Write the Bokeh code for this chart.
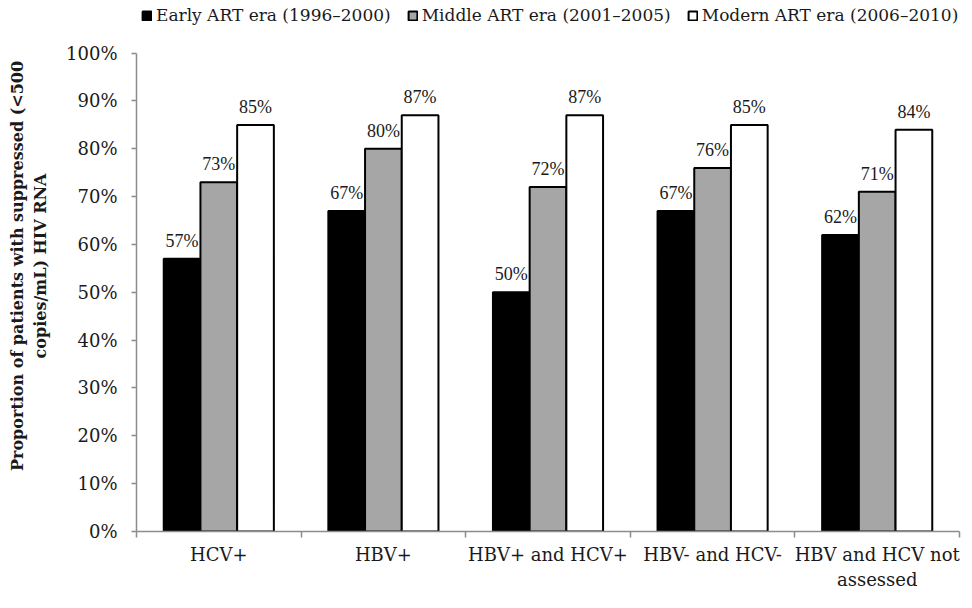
from bokeh.plotting import figure
from bokeh.models import (ColumnDataSource, Range1d, FixedTicker, PrintfTickFormatter,
                          LabelSet, Legend, LegendItem)
from bokeh.embed import file_html
from bokeh.resources import INLINE

categories = ["HCV+", "HBV+", "HBV+ and HCV+", "HBV- and HCV-", "HBV and HCV not\nassessed"]
series_names = ["Early ART era (1996\u20132000)", "Middle ART era (2001\u20132005)", "Modern ART era (2006\u20132010)"]
early = [57, 67, 50, 67, 62]
middle = [73, 80, 72, 76, 71]
modern = [85, 87, 87, 85, 84]
y_ticks = [0, 10, 20, 30, 40, 50, 60, 70, 80, 90, 100]

FONT = "DejaVu Serif"
TXT = "#1a1a1a"
AX = "#8c8c8c"
BAR_W = 0.223
offsets = [-BAR_W, 0.0, BAR_W]
fills = ["#000000", "#a6a6a6", "#ffffff"]

# frame reaches up to the legend row; the axis itself stops at 100 %
Y_TOP = 111

p = figure(width=962, height=592, output_backend="svg", toolbar_location=None,
           x_range=Range1d(0, len(categories)), y_range=Range1d(0, Y_TOP),
           min_border_left=136, min_border_right=3, min_border_top=0, min_border_bottom=50)
p.outline_line_color = None
p.xgrid.visible = False
p.ygrid.visible = False

renderers = []
for vals, off, fc, name in zip([early, middle, modern], offsets, fills, series_names):
    xs = [i + 0.5 + off for i in range(len(categories))]
    src = ColumnDataSource(dict(x=xs, top=vals, lab=[f"{v}%" for v in vals]))
    r = p.vbar(x="x", top="top", bottom=0, width=BAR_W, source=src,
               fill_color=fc, line_color="#000000", line_width=2)
    renderers.append((name, r))
    p.add_layout(LabelSet(x="x", y="top", text="lab", source=src, text_align="center",
                          text_baseline="alphabetic", y_offset=12,
                          text_font=FONT, text_font_size="18px", text_color=TXT))

# y axis
ya = p.yaxis[0]
ya.ticker = FixedTicker(ticks=y_ticks)
ya.bounds = (0, 100)
ya.formatter = PrintfTickFormatter(format="%d%%")
ya.axis_line_color = AX
ya.axis_line_width = 1.5
ya.major_tick_line_color = AX
ya.major_tick_line_width = 1.5
ya.major_tick_out = 5
ya.major_tick_in = 0
ya.minor_tick_line_color = None
ya.major_label_standoff = 14
ya.major_label_text_font = FONT
ya.major_label_text_font_size = "18px"
ya.major_label_text_color = TXT
ya.axis_label = "Proportion of patients with suppressed (<500\ncopies/mL) HIV RNA"
ya.axis_label_text_font = FONT
ya.axis_label_text_font_style = "bold"
ya.axis_label_text_font_size = "16px"
ya.axis_label_text_color = TXT
ya.axis_label_standoff = 13

# x axis: labels at centres, ticks at boundaries
xa = p.xaxis[0]
centers = [i + 0.5 for i in range(len(categories))]
xa.ticker = FixedTicker(ticks=centers, minor_ticks=list(range(len(categories) + 1)))
xa.major_label_overrides = {c: lab for c, lab in zip(centers, categories)}
xa.axis_label = None
xa.axis_label_standoff = 0
xa.axis_line_color = AX
xa.axis_line_width = 1.5
xa.major_tick_line_color = None
xa.major_tick_out = 6
xa.major_tick_in = 0
xa.minor_tick_line_color = AX
xa.minor_tick_line_width = 1.5
xa.minor_tick_out = 6
xa.minor_tick_in = 0
xa.major_label_standoff = 6
xa.major_label_text_font = FONT
xa.major_label_text_font_size = "18px"
xa.major_label_text_color = TXT

legend = Legend(items=[LegendItem(label=n, renderers=[r]) for n, r in renderers],
                orientation="horizontal", location="top_left",
                glyph_width=11, glyph_height=11, label_standoff=4, spacing=16,
                padding=0, margin=5, border_line_color=None, background_fill_alpha=0,
                label_text_font=FONT, label_text_font_size="17px", label_text_color=TXT)
p.add_layout(legend, "center")

open("out.html", "w").write(file_html(p, INLINE))
